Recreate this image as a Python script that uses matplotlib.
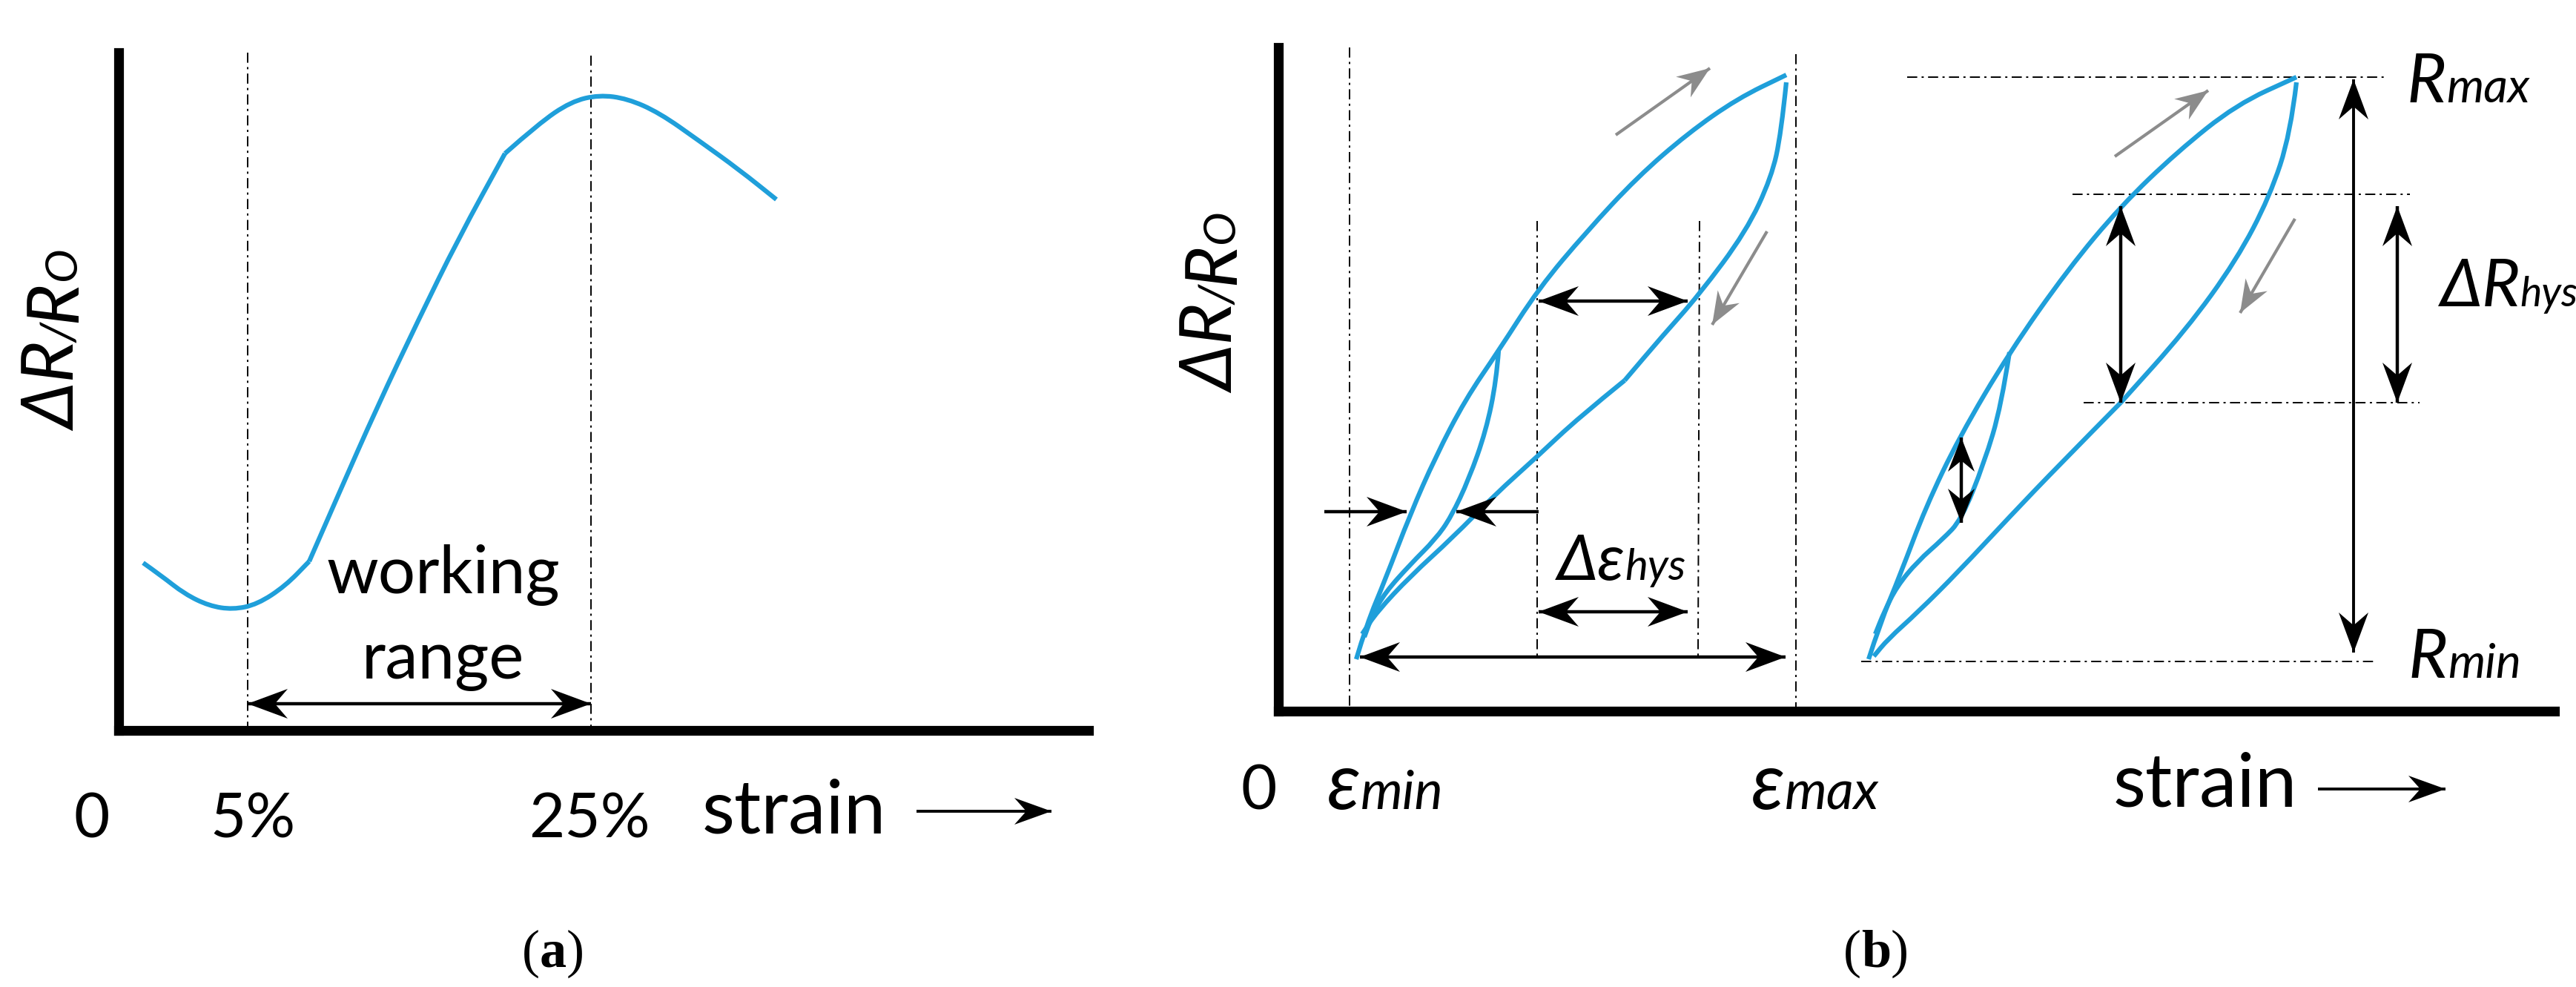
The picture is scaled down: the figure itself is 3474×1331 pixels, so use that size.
import matplotlib
matplotlib.use("Agg")
import matplotlib.pyplot as plt
from matplotlib.path import Path
from matplotlib.patches import PathPatch, Polygon
import math

W, H = 3474, 1331
BLUE = "#1f9fda"
GRAY = "#8c8c8c"
SANS = ["Lato", "DejaVu Sans"]
SERIF = ["Liberation Serif", "DejaVu Serif"]

# panel (a) response curve, split where the line has a kink
a_left_x = [193, 217, 249, 282, 314, 347, 385, 417]
a_left_y = [759, 776, 801, 817, 822, 815, 790, 757]
a_mid_x = [417, 455, 509, 564, 618, 681]
a_mid_y = [757, 670, 548, 432, 322, 207]
a_right_x = [681, 726, 770, 808, 846, 889, 943, 997, 1047]
a_right_y = [207, 167, 137, 128, 133, 152, 190, 229, 269]
a_lines = [334, 797]

# panel (b) left loop
up_x = [1819, 1833, 1858, 1892, 1926, 1966, 2011, 2065, 2130, 2198, 2266, 2333, 2399]
up_y = [889, 842, 782, 693, 616, 539, 473, 389, 312, 239, 180, 133, 101]
down_x = [2399, 2392, 2379, 2345, 2281, 2232, 2181]
down_y = [111, 180, 239, 312, 398, 453, 513]
low_x = [2181, 2118, 2065, 2005, 1949, 1892, 1847, 1827]
low_y = [513, 564, 614, 668, 725, 777, 825, 855]
minor_x = [2011, 2008, 1994, 1971, 1947, 1926, 1892, 1858, 1841, 1830]
minor_y = [473, 513, 581, 646, 697, 727, 761, 799, 829, 859]

# panel (b) right loop
up2_x = [2505, 2520, 2548, 2582, 2627, 2695, 2774, 2845, 2921, 3001, 3082]
up2_y = [889, 842, 774, 684, 590, 475, 363, 278, 205, 141, 104]
down2_x = [3082, 3074, 3046, 3001, 2933, 2845]
down2_y = [111, 180, 265, 351, 445, 543]
low2_x = [2845, 2763, 2695, 2627, 2571, 2531, 2512]
low2_y = [543, 626, 697, 770, 826, 862, 885]
minor2_x = [2695, 2684, 2661, 2630, 2605, 2571, 2543, 2526, 2514]
minor2_y = [475, 547, 624, 701, 727, 757, 791, 825, 855]


def make_axes(fig, left, right, top, bottom):
    ax = fig.add_axes([left / W, 1 - bottom / H, (right - left) / W, (bottom - top) / H])
    ax.set_xlim(left, right)
    ax.set_ylim(bottom, top)
    ax.patch.set_visible(False)
    ax.set_xticks([])
    ax.set_yticks([])
    ax.spines["top"].set_visible(False)
    ax.spines["right"].set_visible(False)
    ax.spines["left"].set_linewidth(9.5)
    ax.spines["bottom"].set_linewidth(9.5)
    return ax


def smooth(ax, xs, ys):
    # quadratic beziers through the midpoints, so the read points stay the only data
    pts = list(zip(xs, ys))
    verts = [pts[0]]
    codes = [Path.MOVETO]
    for i in range(1, len(pts) - 1):
        mid = ((pts[i][0] + pts[i + 1][0]) / 2, (pts[i][1] + pts[i + 1][1]) / 2)
        verts += [pts[i], mid]
        codes += [Path.CURVE3, Path.CURVE3]
    verts.append(pts[-1])
    codes.append(Path.LINETO)
    ax.add_patch(PathPatch(Path(verts, codes), fc="none", ec=BLUE, lw=4.5, clip_on=False, capstyle="butt"))


def head(ax, x, y, ux, uy, color, length, half):
    nx, ny = -uy, ux
    bx, by = x - ux * length, y - uy * length
    nox, noy = x - ux * length * 0.68, y - uy * length * 0.68
    ax.add_patch(Polygon([(x, y), (bx + nx * half, by + ny * half), (nox, noy),
                          (bx - nx * half, by - ny * half)], closed=True, fc=color, ec="none",
                         clip_on=False, zorder=4))


def arrow(ax, x0, y0, x1, y1, both=True, color="black", lw=3.2, length=54, half=20):
    d = math.hypot(x1 - x0, y1 - y0)
    ux, uy = (x1 - x0) / d, (y1 - y0) / d
    ax.plot([x0, x1], [y0, y1], color=color, lw=lw, clip_on=False, solid_capstyle="butt", zorder=3)
    head(ax, x1, y1, ux, uy, color, length, half)
    if both:
        head(ax, x0, y0, -ux, -uy, color, length, half)


def dashdot(ax, xs, ys):
    ax.plot(xs, ys, color="black", lw=1.4, ls=(0, (7, 3, 1.5, 3)), clip_on=False, zorder=1)


def label(fig, x, y, parts, rotation=0, style="normal", family=SANS):
    # parts are (string, size) or (string, size, weight), set one after the other on a baseline
    renderer = fig.canvas.get_renderer()
    for part in parts:
        weight = part[2] if len(part) > 2 else "normal"
        t = fig.text(x / W, 1 - y / H, part[0], fontsize=part[1], style=style, family=family, weight=weight,
                     rotation=rotation, rotation_mode="anchor", ha="left", va="baseline")
        box = t.get_window_extent(renderer)
        if rotation == 90:
            y -= box.height
        else:
            x += box.width


fig = plt.figure(figsize=(W / 100, H / 100), dpi=100, facecolor="white")

# (a)
ax = make_axes(fig, 160, 1468, 71, 985)
for x in a_lines:
    dashdot(ax, [x, x], [71 if x == a_lines[0] else 75, 985])
smooth(ax, a_left_x, a_left_y)
smooth(ax, a_mid_x, a_mid_y)
smooth(ax, a_right_x, a_right_y)
arrow(ax, a_lines[0], 949, a_lines[1], 949)
arrow(ax, 1236, 1094, 1418, 1094, both=False, lw=2.8, length=50, half=18)

label(fig, 102, 581, [("ΔR", 70), ("/", 46), ("R", 70), ("O", 44)], rotation=90, style="italic")
label(fig, 441, 800, [("working", 64)])
label(fig, 488, 915, [("range", 64)])
label(fig, 100, 1129, [("0", 60)])
label(fig, 283, 1129, [("5%", 60)])
label(fig, 713, 1129, [("25%", 60)])
label(fig, 947, 1124, [("strain", 73)])
label(fig, 704, 1304, [("(", 52), ("a", 52, "bold"), (")", 52)], family=SERIF)

# (b)
ax = make_axes(fig, 1724, 3445, 64, 959)
dashdot(ax, [1820, 1820], [64, 953])
dashdot(ax, [2422, 2422], [73, 953])
dashdot(ax, [2073, 2073], [298, 885])
dashdot(ax, [2292, 2290], [298, 885])
dashdot(ax, [2572, 3218], [104, 104])
dashdot(ax, [2795, 3250], [262, 262])
dashdot(ax, [2810, 3263], [543, 543])
dashdot(ax, [2510, 3205], [892, 892])

for xs, ys in [(up_x, up_y), (down_x, down_y), (low_x, low_y), (minor_x, minor_y),
               (up2_x, up2_y), (down2_x, down2_y), (low2_x, low2_y), (minor2_x, minor2_y)]:
    smooth(ax, [x + 10 if x < 2450 else x + 15 for x in xs], ys)

arrow(ax, 2075, 406, 2276, 406)
arrow(ax, 2075, 825, 2276, 825)
arrow(ax, 1834, 886, 2408, 886)
arrow(ax, 1786, 690, 1897, 690, both=False)
arrow(ax, 2075, 690, 1964, 690, both=False)
arrow(ax, 3174, 107, 3174, 880, lw=2.8)
arrow(ax, 2860, 278, 2860, 543)
arrow(ax, 3233, 278, 3233, 543)
arrow(ax, 2645, 590, 2645, 705, length=46, half=18)
arrow(ax, 3126, 1064, 3298, 1064, both=False, lw=2.8, length=50, half=18)
for x0, y0, x1, y1 in [(2179, 182, 2306, 92), (2383, 312, 2309, 438), (2852, 211, 2978, 122), (3095, 295, 3021, 422)]:
    arrow(ax, x0, y0, x1, y1, both=False, color=GRAY, lw=3.0, length=44, half=17)

label(fig, 1664, 530, [("ΔR", 70), ("/", 46), ("R", 70), ("O", 44)], rotation=90, style="italic")
label(fig, 1673, 1092, [("0", 60)])
label(fig, 1790, 1091, [("ε", 76), ("min", 52)], style="italic")
label(fig, 2362, 1091, [("ε", 76), ("max", 52)], style="italic")
label(fig, 2100, 782, [("Δε", 62), ("hys", 42)], style="italic")
label(fig, 3246, 138, [("R", 66), ("max", 46)], style="italic")
label(fig, 3248, 914, [("R", 66), ("min", 46)], style="italic")
label(fig, 3290, 413, [("ΔR", 64), ("hys", 40)], style="italic")
label(fig, 2850, 1088, [("strain", 73)])
label(fig, 2486, 1304, [("(", 52), ("b", 52, "bold"), (")", 52)], family=SERIF)

fig.savefig("out.png", dpi=100, facecolor="white")
